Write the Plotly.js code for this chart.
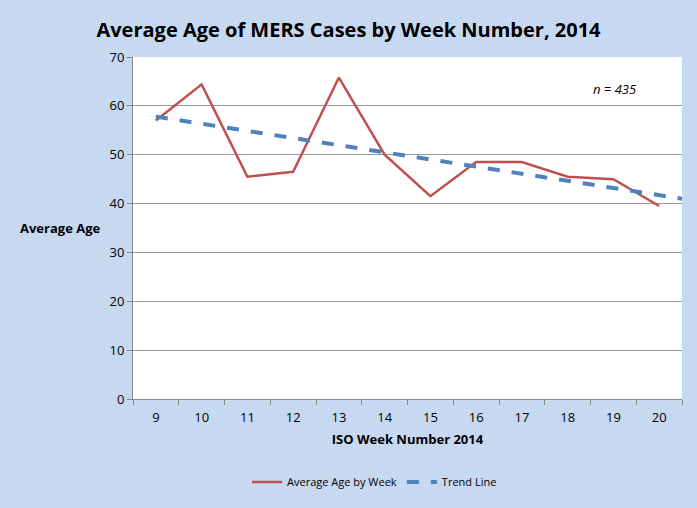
<!DOCTYPE html>
<html>
<head>
<script src="https://cdn.plot.ly/plotly-3.0.1.min.js"></script>
<style>body{margin:0;}</style>
</head>
<body>
<div id="chart" style="width:697px;height:508px;"></div>
<script>
// weekly average age
const weeks = [9, 10, 11, 12, 13, 14, 15, 16, 17, 18, 19, 20];
const avgAge = [57, 64.4, 45.5, 46.5, 65.8, 50, 41.5, 48.5, 48.5, 45.5, 45, 39.5];
// trend line end points
const trendX = [9, 20.5];
const trendY = [57.8, 41.0];
const yTicks = [0, 10, 20, 30, 40, 50, 60, 70];
const catEdges = [8.5, 9.5, 10.5, 11.5, 12.5, 13.5, 14.5, 15.5, 16.5, 17.5, 18.5, 19.5, 20.5];

const data = [
  {x: weeks, y: avgAge, type: "scatter", mode: "lines", name: "Average Age by Week",
   line: {color: "#c0504d", width: 2.5}},
  {x: trendX, y: trendY, type: "scatter", mode: "lines", name: "Trend Line",
   line: {color: "#4f81bd", width: 4, dash: "dash"}},
  // invisible trace to carry the category boundary ticks
  {x: catEdges, y: catEdges.map(() => null), xaxis: "x2", showlegend: false, hoverinfo: "skip"}
];

const layout = {
  width: 697, height: 508,
  paper_bgcolor: "#c6d9f1",
  plot_bgcolor: "#ffffff",
  margin: {l: 133, r: 15, t: 57, b: 100},
  font: {family: "Open Sans, Calibri, sans-serif", size: 13, color: "#000"},
  title: {text: "<b>Average Age of MERS Cases by Week Number, 2014</b>",
          font: {size: 20}, x: 0.5, y: 0.955},
  showlegend: true,
  legend: {orientation: "h", x: 0.44, xanchor: "center", y: -0.2, yanchor: "top",
           font: {size: 11}, bgcolor: "rgba(0,0,0,0)"},
  xaxis: {range: [8.5, 20.5], tickvals: weeks, ticks: "outside", ticklen: 6,
          tickcolor: "rgba(0,0,0,0)", showgrid: false,
          showline: true, linecolor: "#888", zeroline: false,
          title: {text: "<b>ISO Week Number 2014</b>", font: {size: 13}, standoff: 10}},
  xaxis2: {overlaying: "x", range: [8.5, 20.5], tickvals: catEdges, ticks: "outside",
           ticklen: 5, tickcolor: "#888", showticklabels: false, showgrid: false,
           zeroline: false, side: "bottom", anchor: "y"},
  yaxis: {range: [0, 70], tickvals: yTicks, ticks: "outside", ticklen: 5, tickcolor: "#888",
          showgrid: true, gridcolor: "#999", showline: true, linecolor: "#888",
          zeroline: false},
  annotations: [
    {text: "<b>Average Age</b>", xref: "paper", yref: "paper", x: -0.21, y: 0.5,
     xanchor: "left", showarrow: false, font: {size: 13}},
    {text: "<i>n = 435</i>", xref: "paper", yref: "paper", x: 0.92, y: 0.94,
     xanchor: "right", showarrow: false, font: {size: 13}}
  ]
};
layout.margin.b = 100;
layout.margin.t = 57;
// plot should span y 57..408 on the page
layout.margin.b = 508 - 408;

Plotly.newPlot("chart", data, layout, {displayModeBar: false});
</script>
</body>
</html>
